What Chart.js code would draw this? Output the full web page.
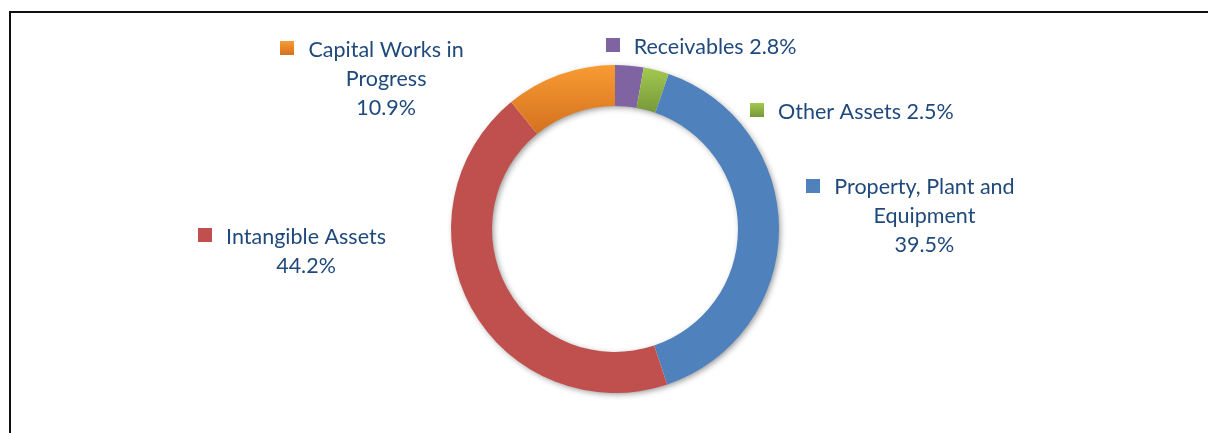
<!DOCTYPE html>
<html>
<head>
<meta charset="utf-8">
<script src="https://cdn.jsdelivr.net/npm/chart.js@4.4.1/dist/chart.umd.min.js"></script>
<style>
  body { margin: 0; background: #fff; }
  #wrap { position: relative; width: 1208px; height: 433px; overflow: hidden; }
  #frame { position: absolute; left: 9px; top: 11px; right: -4px; bottom: -10px;
           border-left: 2px solid #111; border-top: 2px solid #111; }
  canvas { position: absolute; left: 0; top: 0; }
</style>
</head>
<body>
<div id="wrap">
  <div id="frame"></div>
  <canvas id="assetsChart" width="1208" height="433"></canvas>
</div>
<script>
const categories = ['Receivables', 'Other Assets', 'Property, Plant and Equipment', 'Intangible Assets', 'Capital Works in Progress'];
const shares = [2.8, 2.5, 39.5, 44.2, 10.9];
const sliceColors = ['#8064A2', '#9BBB59', '#4F81BD', '#C0504D', '#F79646'];
// top / bottom stops for slices with a gradient fill
const gradientStops = [null, ['#A3C94F', '#76983A'], null, null, ['#F99B33', '#D3711F']];

// label block centre, relative to the ring centre, in outer radii
const labelPos = [[0.61, -1.12], [1.53, -0.725], [1.887, -0.085], [-1.884, 0.127], [-1.396, -0.925]];
const labelFont = '21.5px Lato';
const lineHeight = 29;
const textNudge = 1.5;
const wrapWidth = 205;
const keySize = 14;
const textColor = '#1F497D';
const CUTOUT = 0.75;

// vertical extent of an annular sector
function sectorYRange(cy, r0, r1, a0, a1) {
  const ys = [a0, a1].flatMap(a => [cy + r0 * Math.sin(a), cy + r1 * Math.sin(a)]);
  let top = Math.min(...ys), bottom = Math.max(...ys);
  const has = a => {
    const t = ((a - a0) % (2 * Math.PI) + 2 * Math.PI) % (2 * Math.PI);
    return t <= a1 - a0;
  };
  if (has(-Math.PI / 2)) top = cy - r1;
  if (has(Math.PI / 2)) bottom = cy + r1;
  return [top, bottom];
}

function sliceFill(c) {
  const i = c.dataIndex;
  const stops = gradientStops[i];
  const area = c.chart.chartArea;
  if (!stops || !area) return sliceColors[i];
  const total = shares.reduce((s, v) => s + v, 0);
  const before = shares.slice(0, i).reduce((s, v) => s + v, 0);
  const a0 = -Math.PI / 2 + before / total * 2 * Math.PI;
  const a1 = a0 + shares[i] / total * 2 * Math.PI;
  const r1 = Math.min(area.width, area.height) / 2;
  const cy = (area.top + area.bottom) / 2;
  const [y0, y1] = sectorYRange(cy, r1 * CUTOUT, r1, a0, a1);
  const g = c.chart.ctx.createLinearGradient(0, y0, 0, y1);
  g.addColorStop(0, stops[0]);
  g.addColorStop(1, stops[1]);
  return g;
}

// soft drop shadow under the whole ring
const ringShadow = {
  id: 'ringShadow',
  beforeDatasetsDraw(chart) {
    const arc = chart.getDatasetMeta(0).data[0];
    const ctx = chart.ctx;
    ctx.save();
    ctx.shadowColor = 'rgba(0,0,0,0.45)';
    ctx.shadowBlur = 6;
    ctx.shadowOffsetX = 2;
    ctx.shadowOffsetY = 2;
    ctx.fillStyle = '#fff';
    ctx.beginPath();
    ctx.arc(arc.x, arc.y, arc.outerRadius - 1, 0, Math.PI * 2);
    ctx.arc(arc.x, arc.y, arc.innerRadius + 1, 0, Math.PI * 2, true);
    ctx.fill();
    ctx.restore();
  }
};

function labelLines(ctx, name, pct) {
  if (ctx.measureText(name + ' ' + pct).width <= wrapWidth) return [name + ' ' + pct];
  const lines = [];
  let cur = '';
  name.split(' ').forEach(w => {
    const t = cur ? cur + ' ' + w : w;
    if (cur && ctx.measureText(t).width > wrapWidth) { lines.push(cur); cur = w; }
    else cur = t;
  });
  lines.push(cur, pct);
  return lines;
}

// category name + share, with a colour key, beside each slice
const sliceLabels = {
  id: 'sliceLabels',
  afterDatasetsDraw(chart) {
    const ctx = chart.ctx;
    const arc = chart.getDatasetMeta(0).data[0];
    const r = arc.outerRadius;
    ctx.save();
    ctx.font = labelFont;
    ctx.textAlign = 'center';
    ctx.textBaseline = 'middle';
    categories.forEach((name, i) => {
      const lines = labelLines(ctx, name, shares[i].toFixed(1) + '%');
      const tx = arc.x + labelPos[i][0] * r;
      const top = arc.y + labelPos[i][1] * r - (lines.length - 1) * lineHeight / 2;
      ctx.fillStyle = textColor;
      lines.forEach((t, k) => ctx.fillText(t, tx, top + textNudge + k * lineHeight));
      const w0 = ctx.measureText(lines[0]).width;
      const kx = Math.round(tx - w0 / 2 - 14 - keySize);
      const ky = Math.round(top - keySize / 2);
      const stops = gradientStops[i];
      if (stops) {
        const g = ctx.createLinearGradient(0, ky, 0, ky + keySize);
        g.addColorStop(0, stops[0]);
        g.addColorStop(1, stops[1]);
        ctx.fillStyle = g;
      } else {
        ctx.fillStyle = sliceColors[i];
      }
      ctx.fillRect(kx, ky, keySize, keySize);
    });
    ctx.restore();
  }
};

const ctx = document.getElementById('assetsChart').getContext('2d');
const assetsChart = new Chart(ctx, {
  type: 'doughnut',
  data: {
    labels: categories,
    datasets: [{
      data: shares,
      backgroundColor: sliceFill,
      borderWidth: 0
    }]
  },
  options: {
    responsive: false,
    animation: false,
    devicePixelRatio: 1,
    cutout: (CUTOUT * 100) + '%',
    layout: { padding: { left: 451, right: 429, top: 65, bottom: 40 } },
    plugins: {
      legend: { display: false },
      tooltip: { enabled: false }
    }
  },
  plugins: [ringShadow, sliceLabels]
});
</script>
</body>
</html>
